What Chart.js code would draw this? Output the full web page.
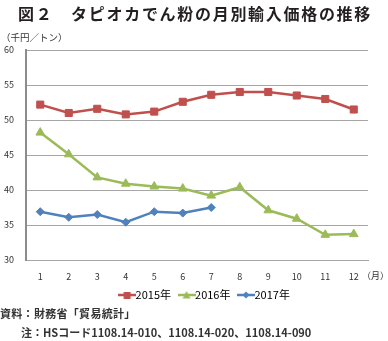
<!DOCTYPE html>
<html>
<head>
<meta charset="utf-8">
<script src="https://cdn.jsdelivr.net/npm/chart.js@4"></script>
<style>
  html,body{margin:0;padding:0;background:#fff;}
  body{width:388px;height:341px;position:relative;overflow:hidden;font-family:"Noto Sans CJK JP","Noto Sans",sans-serif;color:#231f20;}
  #wrap{position:absolute;left:0;top:0;width:388px;height:341px;}
  .t{position:absolute;white-space:nowrap;line-height:1;}
  #title{left:18px;top:5px;font-size:16px;font-weight:bold;letter-spacing:1.7px;}
  #unit{left:1px;top:33px;font-size:9.5px;color:#333;}
  #month{left:362px;top:271px;font-size:9px;color:#333;}
  #src{left:0;top:308px;font-size:11px;font-weight:bold;letter-spacing:0.3px;color:#333;}
  #note{left:21px;top:327px;font-size:11px;font-weight:bold;letter-spacing:0;color:#333;}
</style>
</head>
<body>
<div id="wrap"><canvas id="c" width="388" height="341"></canvas></div>
<div class="t" id="title">図２　タピオカでん粉の月別輸入価格の推移</div>
<div class="t" id="unit">（千円／トン）</div>
<div class="t" id="month">（月）</div>
<div class="t" id="src">資料：財務省「貿易統計」</div>
<div class="t" id="note">注：HSコード1108.14-010、1108.14-020、1108.14-090</div>
<script>
const months = ['1','2','3','4','5','6','7','8','9','10','11','12'];
const seriesNames = ['2015年','2016年','2017年'];
const values2015 = [52.2, 51.0, 51.6, 50.8, 51.2, 52.6, 53.6, 54.0, 54.0, 53.5, 53.0, 51.5];
const values2016 = [48.2, 45.1, 41.8, 40.9, 40.5, 40.2, 39.2, 40.4, 37.1, 35.9, 33.6, 33.7];
const values2017 = [36.9, 36.1, 36.5, 35.4, 36.9, 36.7, 37.5];
const yTicks = [30, 35, 40, 45, 50, 55, 60];

const colors = ['#c0504d', '#9bbb59', '#4f81bd'];
const styles = ['rect', 'triangle', 'rectRot'];
const radii = [5, 5, 4];

function legendIcon(color, style) {
  const cv = document.createElement('canvas');
  cv.width = 18; cv.height = 10;
  const ctx = cv.getContext('2d');
  ctx.strokeStyle = color; ctx.fillStyle = color; ctx.lineWidth = 2.5;
  ctx.beginPath(); ctx.moveTo(0, 5); ctx.lineTo(18, 5); ctx.stroke();
  ctx.beginPath();
  if (style === 'rect') { ctx.rect(5.5, 2, 7, 7); }
  else if (style === 'triangle') { ctx.moveTo(9, 1); ctx.lineTo(13, 8.5); ctx.lineTo(5, 8.5); ctx.closePath(); }
  else { ctx.moveTo(9, 1.5); ctx.lineTo(12.5, 5); ctx.lineTo(9, 8.5); ctx.lineTo(5.5, 5); ctx.closePath(); }
  ctx.fill();
  return cv;
}

const allValues = [values2015, values2016, values2017];
const datasets = seriesNames.map((name, i) => ({
  label: name,
  data: allValues[i],
  borderColor: colors[i],
  backgroundColor: colors[i],
  borderWidth: 2.5,
  pointStyle: styles[i],
  pointRadius: radii[i],
  pointBorderWidth: 1,
  pointBackgroundColor: colors[i],
  pointBorderColor: colors[i],
  tension: 0,
  legendIcon: legendIcon(colors[i], styles[i])
}));

const shiftLegend = {
  id: 'shiftLegend',
  afterLayout(chart) {
    const lg = chart.legend;
    if (lg) { lg.left += 23; lg.right += 23; lg.top -= 7; lg.bottom -= 7; }
  }
};

Chart.defaults.font.family = '"Noto Sans CJK JP","Noto Sans",sans-serif';
new Chart(document.getElementById('c'), {
  type: 'line',
  data: { labels: months, datasets },
  plugins: [shiftLegend],
  options: {
    responsive: false,
    animation: false,
    layout: { padding: { top: 50, left: 0, right: 20, bottom: 23.5 } },
    plugins: {
      legend: {
        position: 'bottom',
        labels: {
          usePointStyle: true,
          pointStyleWidth: 6,
          padding: 12.5,
          color: '#333',
          font: { size: 11 },
          generateLabels(chart) {
            return chart.data.datasets.map((ds, i) => ({
              text: ds.label,
              fillStyle: ds.borderColor,
              strokeStyle: ds.borderColor,
              pointStyle: ds.legendIcon,
              lineWidth: 0,
              hidden: false,
              datasetIndex: i
            }));
          }
        }
      },
      tooltip: { enabled: false },
      title: { display: false }
    },
    scales: {
      x: {
        offset: true,
        grid: { display: false, drawTicks: false },
        border: { display: true, color: '#a6a6a6', width: 1 },
        ticks: { color: '#333', font: { size: 9 }, padding: 11, maxRotation: 0 },
        afterFit(s) { s.height = 24; }
      },
      y: {
        min: 30, max: 60,
        afterBuildTicks(s) { s.ticks = yTicks.map(v => ({ value: v })); },
        grid: { color: '#a6a6a6', lineWidth: 1, drawTicks: false },
        border: { display: true, color: '#8c8c8c', width: 2 },
        ticks: { color: '#333', font: { size: 9 }, padding: 12 },
        afterFit(s) { s.width = 26; }
      }
    }
  }
});
</script>
</body>
</html>
